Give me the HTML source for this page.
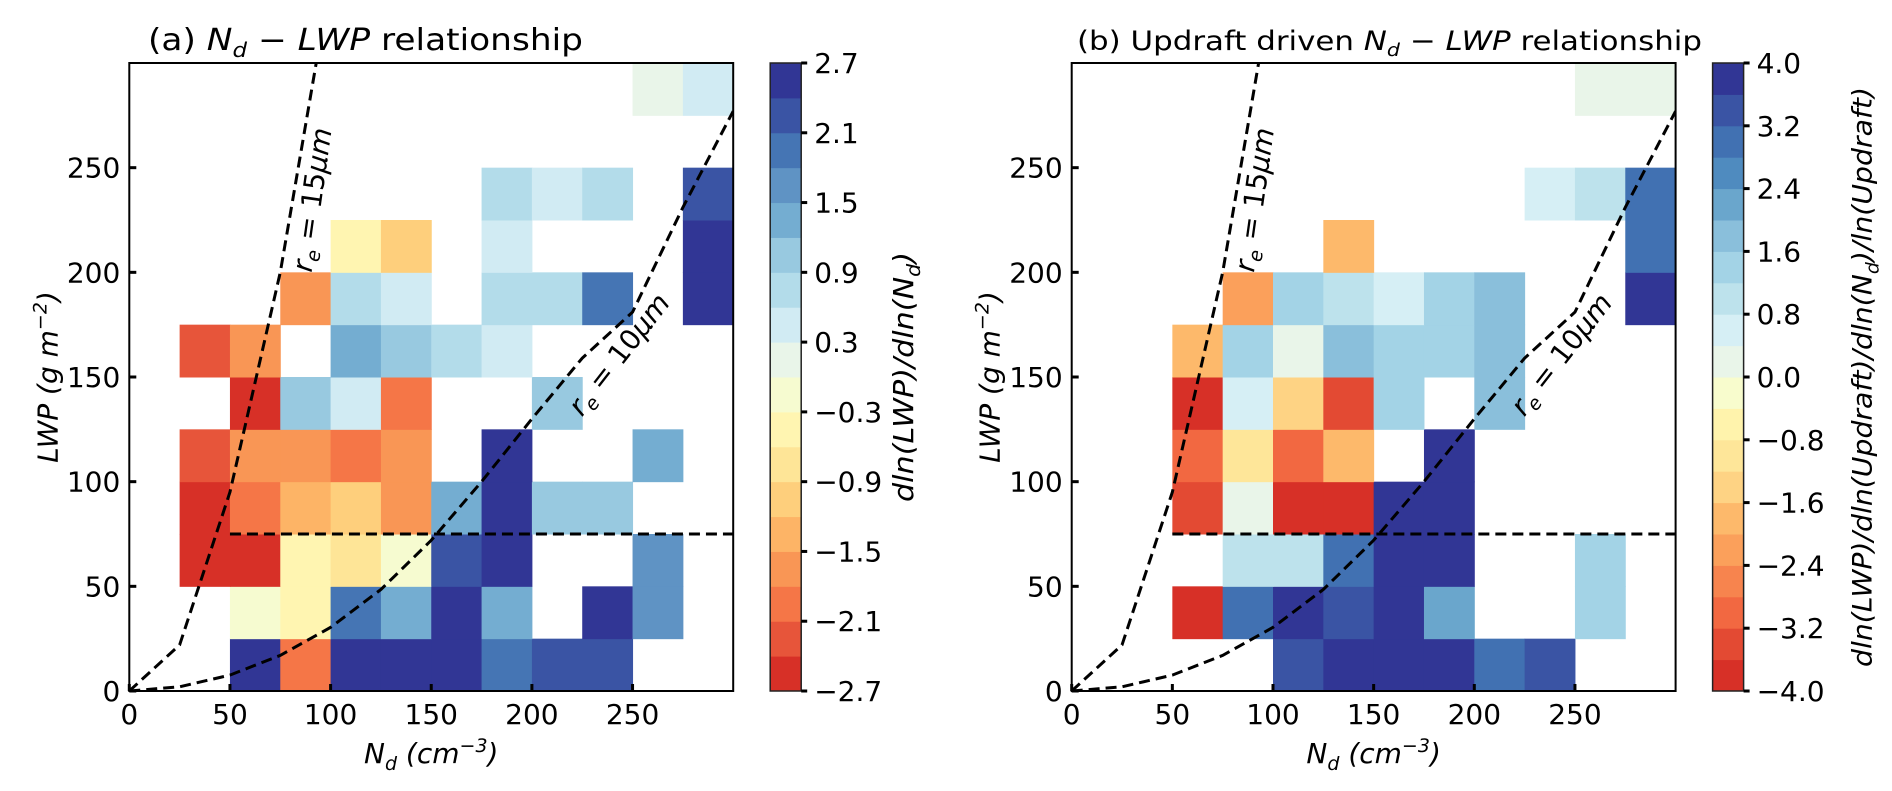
<!DOCTYPE html>
<html><head><meta charset="utf-8"><style>
html,body{margin:0;padding:0;background:#fff;}
svg{display:block;font-family:"DejaVu Sans","Liberation Sans",sans-serif;}
</style></head>
<body>
<svg id="fig" width="1892" height="791" viewBox="0 0 1892 791" xmlns="http://www.w3.org/2000/svg">
  <text x="148" y="50" font-size="30" textLength="435" lengthAdjust="spacingAndGlyphs">(a) <tspan font-style="italic">N</tspan><tspan font-style="italic" font-size="20" dy="7">d</tspan><tspan dy="-7"> − </tspan><tspan font-style="italic">LWP</tspan> relationship</text>
  <text x="1077" y="50" font-size="27" textLength="625" lengthAdjust="spacingAndGlyphs">(b) Updraft driven <tspan font-style="italic">N</tspan><tspan font-style="italic" font-size="18" dy="6">d</tspan><tspan dy="-6"> − </tspan><tspan font-style="italic">LWP</tspan> relationship</text>
</svg>
<script>
const xCategories = [0,25,50,75,100,125,150,175,200,225,250,275];
const yCategories = [0,25,50,75,100,125,150,175,200,225,250,275];
const n = null;
const valuesA = [
 [n,n,2.55,-1.95,2.55,2.55,2.55,1.95,2.25,2.25,n,n],
 [n,n,-0.15,-0.45,1.95,1.35,2.55,1.35,n,2.55,1.65,n],
 [n,-2.55,-2.55,-0.45,-0.75,-0.15,2.25,2.55,n,n,1.65,n],
 [n,-2.55,-1.95,-1.35,-1.05,-1.65,1.35,2.55,1.05,1.05,n,n],
 [n,-2.25,-1.65,-1.65,-1.95,-1.65,n,2.55,n,n,1.35,n],
 [n,n,-2.55,1.05,0.45,-1.95,n,n,1.05,n,n,n],
 [n,-2.25,-1.65,n,1.35,1.05,0.75,0.45,n,n,n,n],
 [n,n,n,-1.65,0.75,0.45,n,0.75,0.75,1.95,n,2.55],
 [n,n,n,n,-0.45,-1.05,n,0.45,n,n,n,2.55],
 [n,n,n,n,n,n,n,0.75,0.45,0.75,n,2.25],
 [n,n,n,n,n,n,n,n,n,n,n,n],
 [n,n,n,n,n,n,n,n,n,n,0.15,0.45]
];
const valuesB = [
 [n,n,n,n,3.4,3.8,3.8,3.8,3.0,3.4,n,n],
 [n,n,-3.8,3.0,3.8,3.4,3.8,2.2,n,n,1.4,n],
 [n,n,n,1.0,1.0,3.0,3.8,3.8,n,n,1.4,n],
 [n,n,-3.4,0.2,-3.8,-3.8,3.8,3.8,n,n,n,n],
 [n,n,-3.0,-1.0,-3.0,-1.8,n,3.8,n,n,n,n],
 [n,n,-3.8,0.6,-1.4,-3.4,1.4,n,1.8,n,n,n],
 [n,n,-1.8,1.4,0.2,1.8,1.4,1.4,1.8,n,n,n],
 [n,n,n,-2.2,1.4,1.0,0.6,1.4,1.8,n,n,3.8],
 [n,n,n,n,n,-1.8,n,n,n,n,n,3.0],
 [n,n,n,n,n,n,n,n,n,0.6,1.0,3.0],
 [n,n,n,n,n,n,n,n,n,n,n,n],
 [n,n,n,n,n,n,n,n,n,n,0.2,0.2]
];
const xTicks = [0,50,100,150,200,250];
const yTicks = [0,50,100,150,200,250];
const cbTicksA = [-2.7,-2.1,-1.5,-0.9,-0.3,0.3,0.9,1.5,2.1,2.7];
const cbTicksB = [-4.0,-3.2,-2.4,-1.6,-0.8,0.0,0.8,1.6,2.4,3.2,4.0];
const re15Nd = [0,25,50,75,100];
const re15LWP = [0,22,95,200,340];
const re10Nd = [0,25,50,75,100,125,150,175,200,225,250,275,300];
const re10LWP = [0,2,7.6,17,30.4,48.5,72,100,130,159,181,231,277];
const thresholdLWP = 75;
const thresholdNdStart = 50;

const palA = ['#d73027','#e7553a','#f57647','#f99655','#fdb466','#fecf7c','#fee597','#fff5b1','#f6fbd0','#e9f5e9','#d1ebf3','#b3dcea','#98c9e0','#74add1','#5f93c4','#4575b4','#3a54a4','#313695'];
const palB = ['#d73027','#e34a33','#f26841','#f7844e','#fba05b','#fdb96b','#fed384','#fee699','#fff3ac','#f8fccd','#e9f5e9','#d6eff5','#bde2ec','#a3d3e6','#8abfdb','#6aa6cc','#4f8bbf','#4171b2','#3a54a4','#313695'];

const NS='http://www.w3.org/2000/svg';
const svg=document.getElementById('fig');
function mk(tag,attrs,parent){const e=document.createElementNS(NS,tag);for(const k in attrs)e.setAttribute(k,attrs[k]);(parent||svg).appendChild(e);return e;}
const Y0=691, YT=63;
function fmt(v){return (v<0?'\u2212':'')+Math.abs(v).toFixed(1);}

function panel(id, x0, values, vmin, step, pal, cbTicks, cbLabel, cbFont, cbLen, cbOff){
  const g=mk('g',{});
  
  
  const sx=v=>x0+v*2.013;
  const sy=v=>Y0-v*(Y0-YT)/300;
  const xR=sx(300);
  for(let r=0;r<yCategories.length;r++){
    for(let c=0;c<xCategories.length;c++){
      const v=values[r][c];
      if(v===null) continue;
      let b=Math.floor((v-vmin)/step); b=Math.max(0,Math.min(pal.length-1,b));
      const x1=sx(xCategories[c]), x2=sx(xCategories[c]+25), y1=sy(yCategories[r]+25), y2=sy(yCategories[r]);
      const rect=mk('rect',{x:x1,y:y1,width:x2-x1+0.5,height:y2-y1+0.5,fill:pal[b]},g);
      
      
    }
  }
  const p15=re15Nd.map((d,i)=>sx(d)+','+sy(re15LWP[i])).join(' ');
  mk('clipPath',{id:'clip'+id},svg);
  const cp=svg.lastChild; mk('rect',{x:x0,y:YT,width:xR-x0,height:Y0-YT},cp);
  const l1=mk('polyline',{points:p15,fill:'none',stroke:'#000','stroke-width':3,'stroke-dasharray':'11 6','clip-path':'url(#clip'+id+')'},g);
  
  
  const p10=re10Nd.map((d,i)=>sx(d)+','+sy(re10LWP[i])).join(' ');
  const l2=mk('polyline',{points:p10,fill:'none',stroke:'#000','stroke-width':3,'stroke-dasharray':'11 6','clip-path':'url(#clip'+id+')'},g);
  
  
  const l3=mk('line',{x1:sx(thresholdNdStart),x2:xR,y1:sy(thresholdLWP),y2:sy(thresholdLWP),stroke:'#000','stroke-width':3,'stroke-dasharray':'11 6'},g);
  
  
  const t1=mk('text',{x:0,y:0,'font-size':28,'font-style':'italic','text-anchor':'middle',transform:'translate('+sx(95.5)+','+sy(234)+') rotate(-82)'},g);
  
  
  t1.innerHTML='r<tspan font-size="19" dy="6">e</tspan><tspan dy="-6" font-style="normal"> = 15</tspan>μm';
  const t2=mk('text',{x:0,y:0,'font-size':28,'font-style':'italic','text-anchor':'middle',transform:'translate('+sx(247)+','+sy(158)+') rotate(-52)'},g);
  
  
  t2.innerHTML='r<tspan font-size="19" dy="6">e</tspan><tspan dy="-6" font-style="normal"> = 10</tspan>μm';
  const fr=mk('rect',{x:x0,y:YT,width:xR-x0,height:Y0-YT,fill:'none',stroke:'#000','stroke-width':2},g);
  
  
  xTicks.forEach(t=>{
    mk('line',{x1:sx(t),x2:sx(t),y1:Y0,y2:Y0-7,stroke:'#000','stroke-width':3},g);
    const tx=mk('text',{x:sx(t),y:Y0+33,'font-size':28,'text-anchor':'middle'},g);
    
    
    tx.textContent=t;
  });
  yTicks.forEach(t=>{
    mk('line',{x1:x0,x2:x0+7,y1:sy(t),y2:sy(t),stroke:'#000','stroke-width':3},g);
    const ty=mk('text',{x:x0-9,y:sy(t)+10,'font-size':28,'text-anchor':'end'},g);
    
    
    ty.textContent=t;
  });
  const xt=mk('text',{x:(x0+xR)/2,y:763,'font-size':28,'text-anchor':'middle','font-style':'italic'},g);
  
  
  xt.innerHTML='N<tspan font-size="19" dy="7">d</tspan><tspan dy="-7"> (cm</tspan><tspan font-size="19" dy="-11">−3</tspan><tspan dy="11">)</tspan>';
  const yt=mk('text',{x:0,y:0,'font-size':28,'text-anchor':'middle','font-style':'italic',transform:'translate('+(x0-72)+','+((Y0+YT)/2)+') rotate(-90)'},g);
  
  
  yt.innerHTML='LWP (g m<tspan font-size="19" dy="-11">−2</tspan><tspan dy="11">)</tspan>';
  const cbx=xR+37, cbw=31;
  const nb=pal.length, bh=(Y0-YT)/nb;
  pal.forEach((col,i)=>{
    const br=mk('rect',{x:cbx,y:Y0-(i+1)*bh,width:cbw,height:bh+0.5,fill:col},g);
    
    
  });
  mk('rect',{x:cbx,y:YT,width:cbw,height:Y0-YT,fill:'none',stroke:'#222','stroke-width':1.5},g);
  const vmax=vmin+step*nb;
  cbTicks.forEach(t=>{
    const yy=Y0-(t-vmin)/(vmax-vmin)*(Y0-YT);
    mk('line',{x1:cbx+cbw,x2:cbx+cbw+6,y1:yy,y2:yy,stroke:'#000','stroke-width':3},g);
    const ct=mk('text',{x:cbx+cbw+13,y:yy+10,'font-size':28},g);
    
    
    ct.textContent=fmt(t);
  });
  const cl=mk('text',{x:0,y:0,'font-size':cbFont,'text-anchor':'middle','font-style':'italic',textLength:cbLen,lengthAdjust:'spacingAndGlyphs',transform:'translate('+(cbx+cbw+cbOff)+','+((Y0+YT)/2)+') rotate(-90)'},g);
  
  
  cl.innerHTML=cbLabel;
}
panel('a',129.3,valuesA,-2.7,0.3,palA,cbTicksA,'dln(LWP)/dln(N<tspan font-size="19" dy="7">d</tspan><tspan dy="-7">)</tspan>',28,250,112);
panel('b',1071.7,valuesB,-4.0,0.4,palB,cbTicksB,'dln(LWP)/dln(Updraft)/dln(N<tspan font-size="18" dy="7">d</tspan><tspan dy="-7">)/ln(Updraft)</tspan>',27,580,128);
</script>
</body></html>
